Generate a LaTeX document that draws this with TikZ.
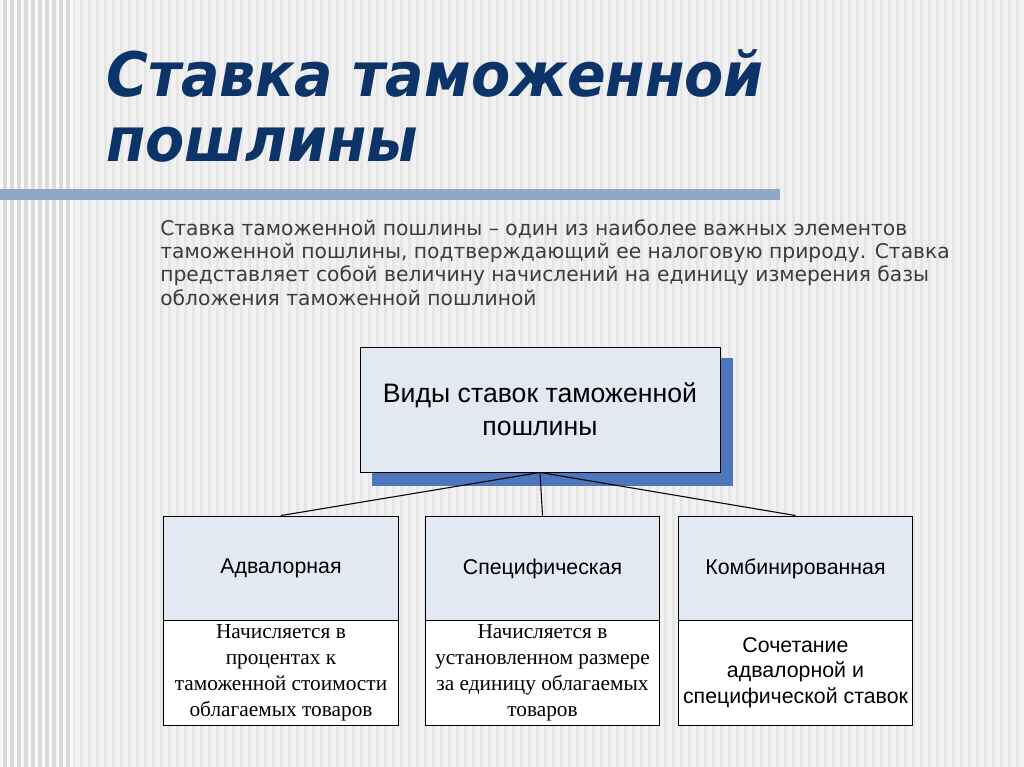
\documentclass[tikz,border=0pt]{standalone}
\usepackage{fontspec}
\setmainfont{Liberation Sans}
\newfontfamily\titlefont{DejaVu Sans}
\newfontfamily\parafont{DejaVu Sans}
\newfontfamily\serifru{Liberation Serif}
\definecolor{navy}{HTML}{0C3468}
\definecolor{barblue}{HTML}{8EA8C6}
\definecolor{boxfill}{HTML}{E3E9F2}
\definecolor{shadowblue}{HTML}{4D76BD}
\definecolor{paragray}{HTML}{3C3C3C}
\definecolor{bgbase}{HTML}{F1F1F1}
\definecolor{bgstripe}{HTML}{E6E6E6}
\definecolor{bgleft}{HTML}{DADADA}
\tikzset{
  conn/.style={draw=black, line width=0.8pt},
  headbox/.style={draw=black, fill=boxfill, line width=0.7pt, minimum width=270pt, minimum height=93.75pt, align=center, inner sep=0pt},
  kindbox/.style={draw=black, fill=boxfill, line width=0.7pt, minimum width=176pt, minimum height=78.75pt, align=center, inner sep=0pt, font=\fontsize{16}{18}\selectfont},
  descbox/.style={draw=black, fill=white, line width=0.7pt, minimum width=176pt, minimum height=78.75pt, align=center, inner sep=0pt},
  titletext/.style={anchor=base west, inner sep=0pt, text=navy, font=\titlefont\bfseries\itshape\fontsize{46}{50}\selectfont, xscale=0.93},
}
\begin{document}
\begin{tikzpicture}[x=0.75pt, y=-0.75pt]
\useasboundingbox (0,0) rectangle (1024,767);
% background
\fill[bgbase] (0,0) rectangle (1024,767);
\foreach \i in {72,80,...,1020} { \fill[bgstripe] (\i,0) rectangle ++(3,767); }
\fill[bgleft] (0,0) rectangle (72,767);
\foreach \i in {0,7,...,70} { \fill[white!85!bgleft] (\i,0) rectangle ++(3,767); }
% title
\node[titletext] (t1) at (106,97) {Ставка таможенной};
\node[titletext] (t2) at (106,161) {пошлины};
% bar
\fill[barblue] (0,189) rectangle (780,200);
% paragraph
\node[anchor=north west, inner sep=0pt, text=paragray, align=left, font=\parafont\fontsize{15.2}{17.6}\selectfont] (para) at (160,219)
{Ставка таможенной пошлины – один из наиболее важных элементов\\
таможенной пошлины, подтверждающий ее налоговую природу. Ставка\\
представляет собой величину начислений на единицу измерения базы\\
обложения таможенной пошлиной};
% head box
\fill[shadowblue] (372,358) rectangle (733,486);
\node[headbox, font=\fontsize{20}{24.5}\selectfont] (types) at (540,409.5) {Виды ставок таможенной\\пошлины};
% kind boxes
\node[kindbox] (k1) at (281,568.5) {Адвалорная};
\node[kindbox] (k2) at (542.5,568.5) {Специфическая};
\node[kindbox] (k3) at (795.5,568.5) {Комбинированная};
\node[descbox, font=\serifru\fontsize{16}{19.5}\selectfont] (d1) at (281,672.5) {Начисляется в\\процентах к\\таможенной стоимости\\облагаемых товаров};
\node[descbox, font=\serifru\fontsize{16}{19.5}\selectfont] (d2) at (542.5,672.5) {Начисляется в\\установленном размере\\за единицу облагаемых\\товаров};
\node[descbox, font=\fontsize{16}{19}\selectfont] (d3) at (795.5,672.5) {Сочетание\\адвалорной и\\специфической ставок};
% connectors
\draw[conn] (types.south) -- (k1.north);
\draw[conn] (types.south) -- (k2.north);
\draw[conn] (types.south) -- (k3.north);
\end{tikzpicture}
\end{document}
